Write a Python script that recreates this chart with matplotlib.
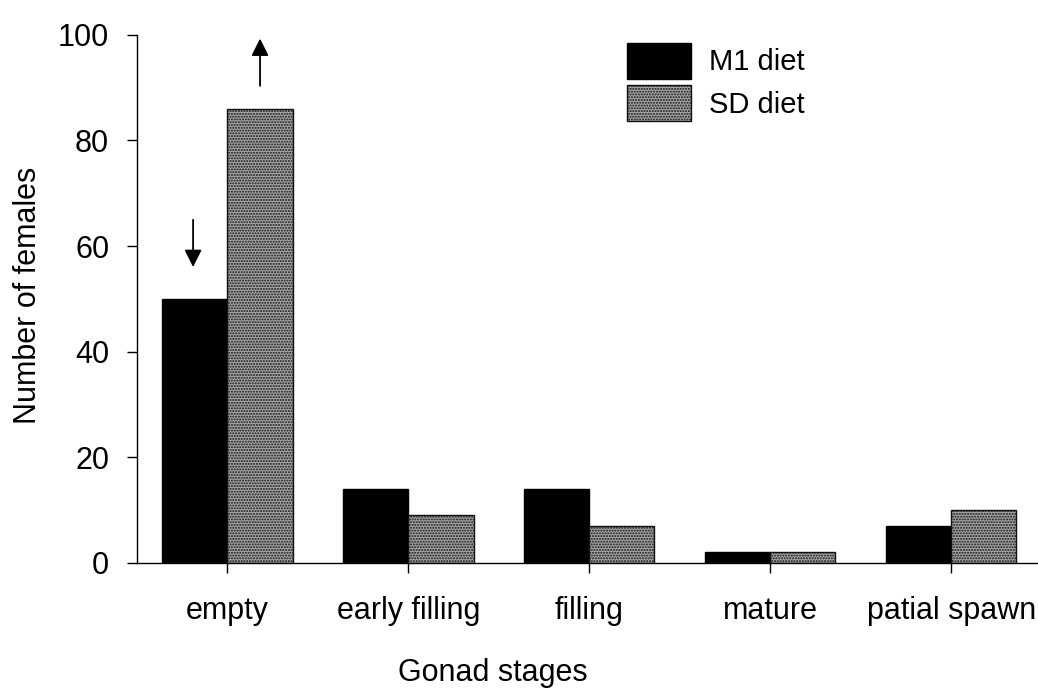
import matplotlib
matplotlib.use("Agg")
import matplotlib.pyplot as plt
import numpy as np

plt.rcParams['font.family'] = ['Liberation Sans', 'DejaVu Sans']
plt.rcParams['hatch.linewidth'] = 1.0

stages = ["empty", "early filling", "filling", "mature", "patial spawn"]
m1_diet = [50, 14, 14, 2, 7]
sd_diet = [86, 9, 7, 2, 10]

fig = plt.figure(figsize=(10.38, 6.95), dpi=100)
ax = fig.add_axes([0.132, 0.19, 0.868, 0.76])

x = np.arange(len(stages))
w = 0.36
ax.bar(x - w / 2, m1_diet, w, color="black", edgecolor="black", linewidth=1, label="M1 diet")
ax.bar(x + w / 2, sd_diet, w, color="#a8a8a8", edgecolor="#111111", hatch="......",
       linewidth=1, label="SD diet")

# arrows over the empty-stage bars
arrow = dict(arrowstyle="-|>", color="black", lw=1.3, mutation_scale=26)
ax.annotate("", xy=(-0.19, 55.5), xytext=(-0.19, 65.5), arrowprops=arrow)
ax.annotate("", xy=(0.18, 99.8), xytext=(0.18, 89.8), arrowprops=arrow)

ax.set_xlim(-0.5, 4.48)
ax.set_ylim(0, 100)
ax.set_xticks(x)
ax.set_xticklabels(stages)
ax.set_yticks(range(0, 101, 20))
ax.tick_params(axis="both", direction="out", length=7, width=1, labelsize=22)
ax.tick_params(axis="x", pad=17)
ax.tick_params(axis="y", pad=13)
for s in ["top", "right"]:
    ax.spines[s].set_visible(False)
for s in ["left", "bottom"]:
    ax.spines[s].set_linewidth(1)

ax.set_xlabel("Gonad stages", fontsize=22)
ax.xaxis.set_label_coords(0.395, -0.18)
ax.set_ylabel("Number of females", fontsize=22)
ax.yaxis.set_label_coords(-0.104, 0.507)

ax.legend(loc="upper left", bbox_to_anchor=(0.515, 1.035), frameon=False, fontsize=21,
          handlelength=2.2, handleheight=1.55, handletextpad=0.6, labelspacing=0.2)

fig.savefig("out.png", dpi=100)
